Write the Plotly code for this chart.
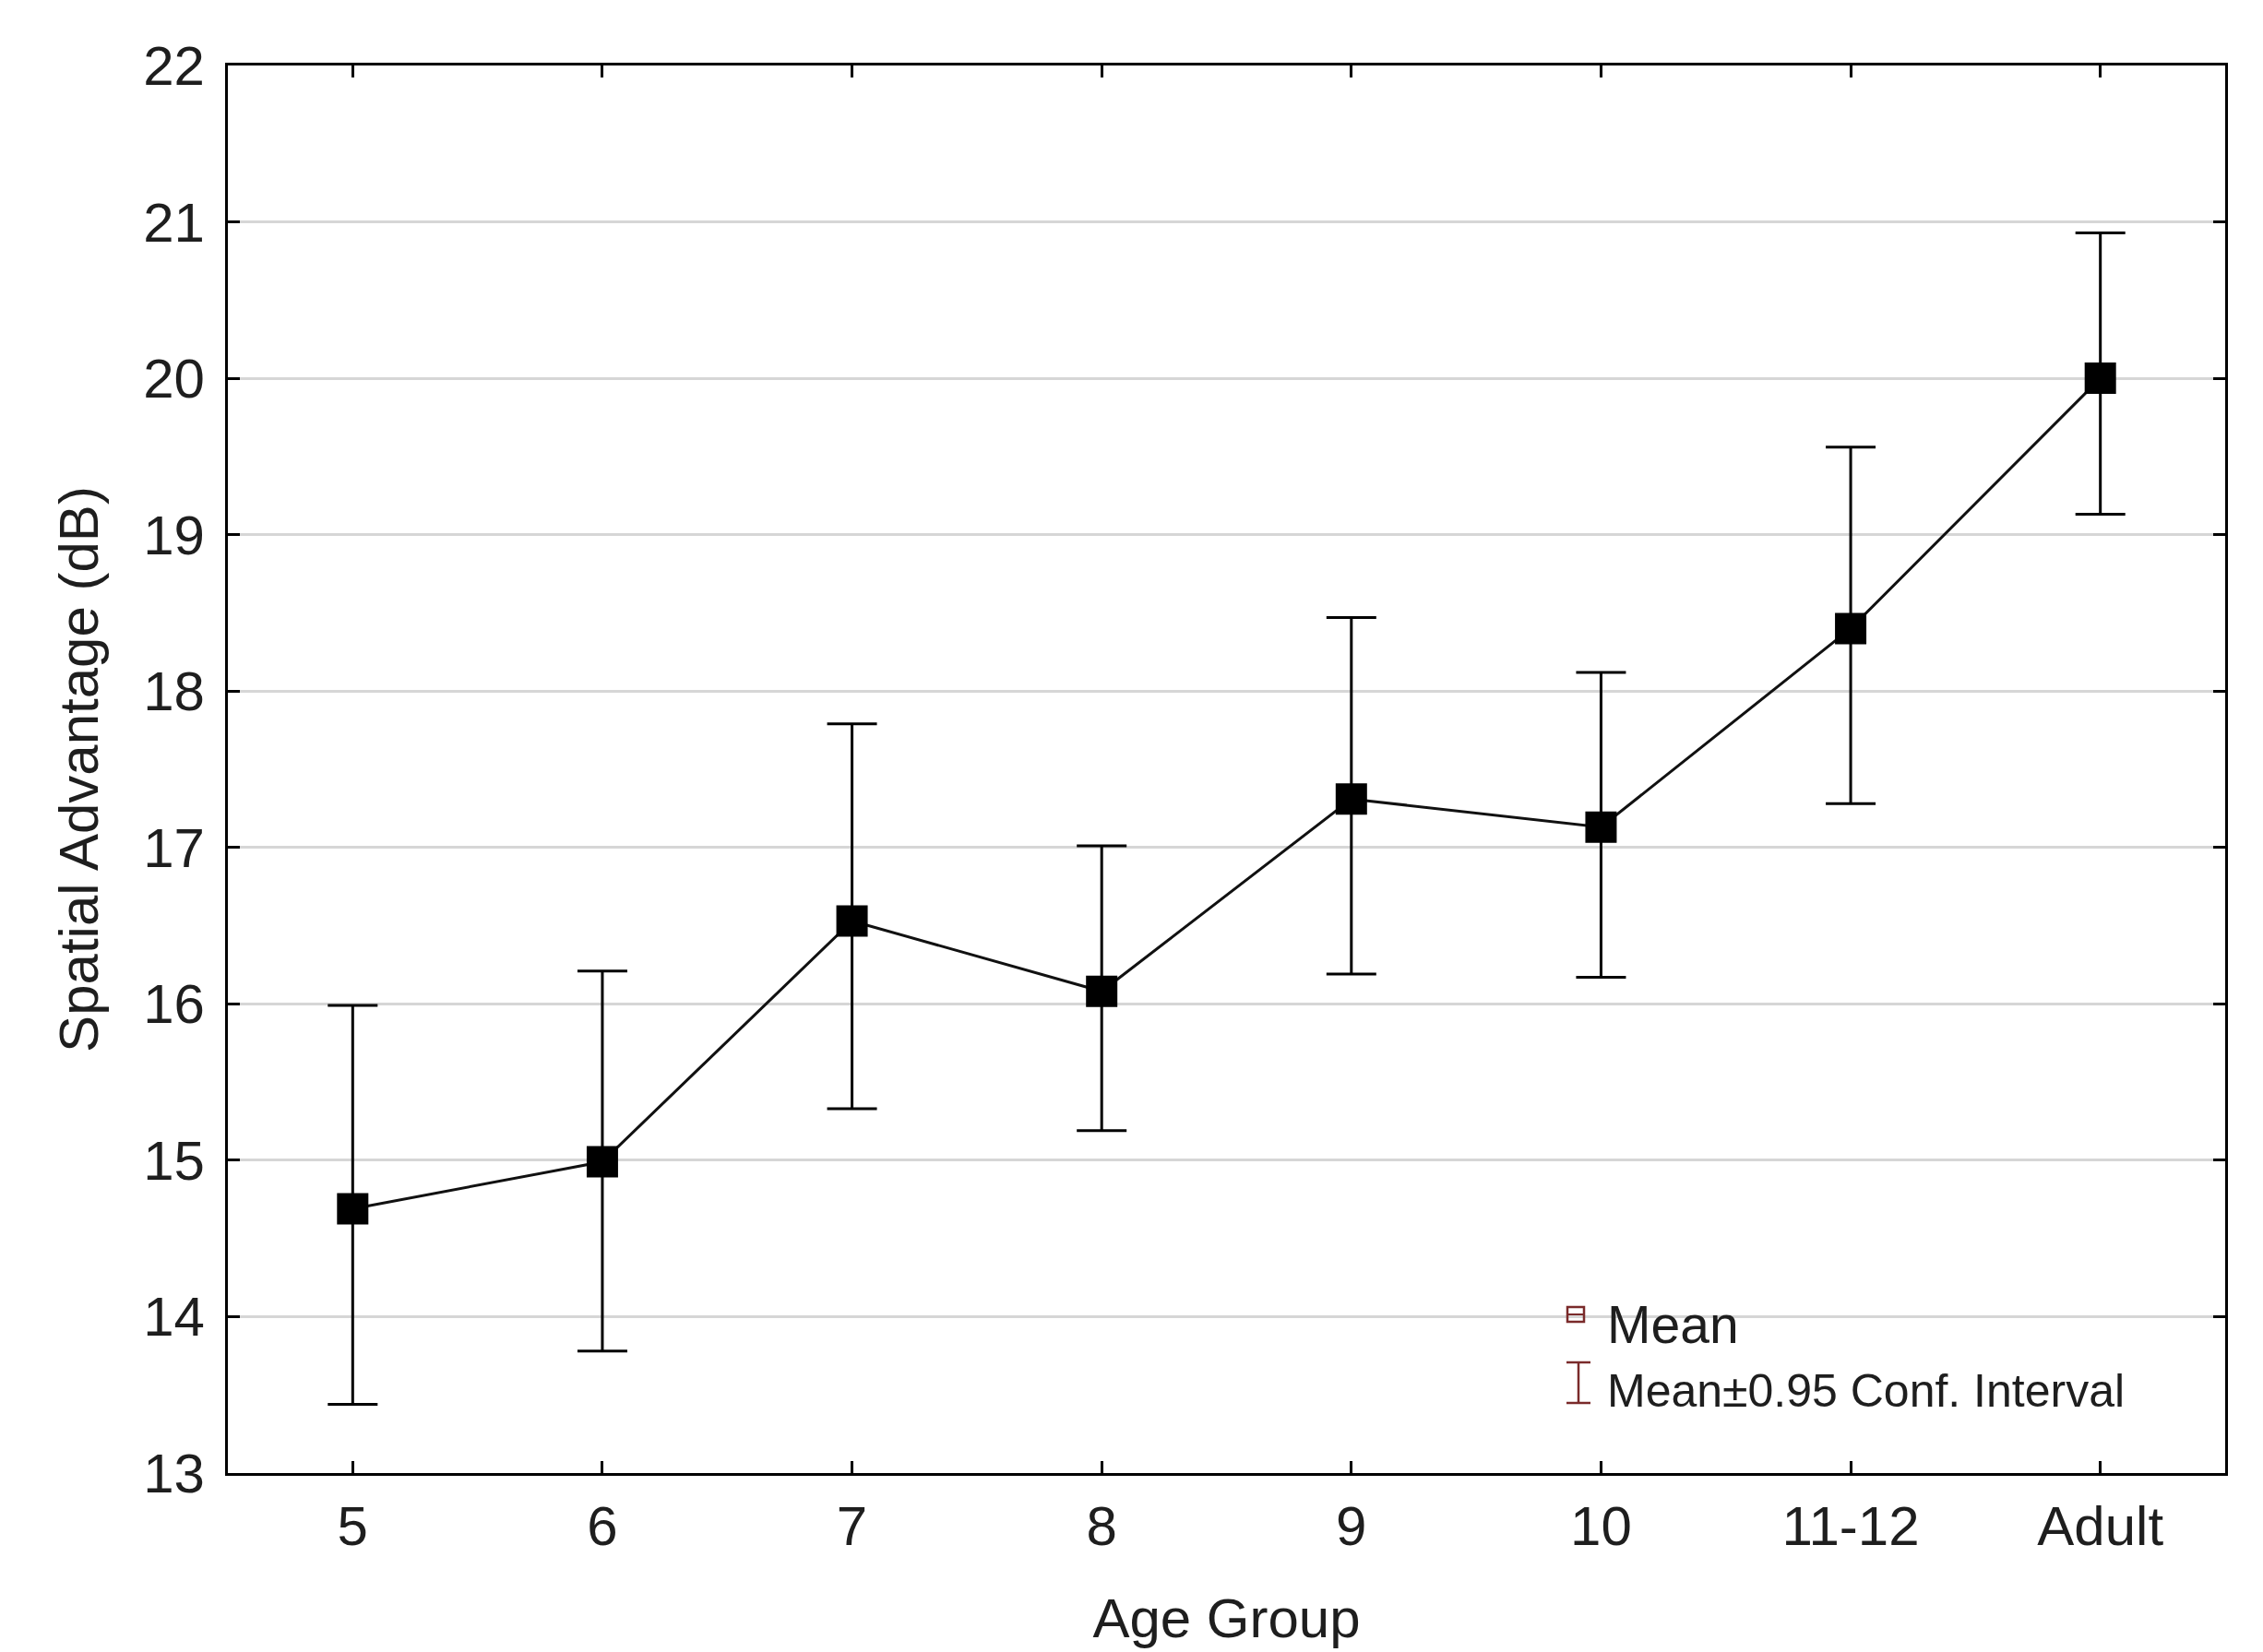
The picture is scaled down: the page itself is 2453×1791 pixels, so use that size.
import plotly.graph_objects as go

# Data
age_groups = ["5", "6", "7", "8", "9", "10", "11-12", "Adult"]
mean_values = [14.69, 14.99, 16.53, 16.08, 17.31, 17.13, 18.40, 20.00]
ci_upper = [15.99, 16.21, 17.79, 17.01, 18.47, 18.12, 19.56, 20.93]
ci_lower = [13.44, 13.78, 15.33, 15.19, 16.19, 16.17, 17.28, 19.13]

y_ticks = [13, 14, 15, 16, 17, 18, 19, 20, 21, 22]

err_plus = [u - m for u, m in zip(ci_upper, mean_values)]
err_minus = [m - l for m, l in zip(mean_values, ci_lower)]

FONT = "Liberation Sans, Arial, sans-serif"
TXT = "#1e1e1e"
LEG = "#7a2a2a"

fig = go.Figure()
fig.add_trace(go.Scatter(
    x=list(range(len(age_groups))),
    y=mean_values,
    mode="lines+markers",
    line=dict(color="#111111", width=3),
    marker=dict(symbol="square", size=34, color="black"),
    error_y=dict(type="data", symmetric=False, array=err_plus, arrayminus=err_minus,
                 color="black", thickness=3, width=27),
    showlegend=False,
))

W, H = 2453, 1791
OFF = 8  # page body margin offset
PL, PR, PT, PB = 247, 2412, 71, 1597  # plot frame in page pixels
L, T = PL - OFF, PT - OFF
R, B = W - (PR - OFF), H - (PB - OFF)
pw, ph = PR - PL, PB - PT


def px(x):
    return (x - PL) / pw


def py(y):
    return (PB - y) / ph


# Legend symbols (paper coordinates)
shapes = [
    dict(type="rect", xref="paper", yref="paper", x0=px(1699), x1=px(1717), y0=py(1433), y1=py(1417),
         line=dict(color=LEG, width=2.5), fillcolor="rgba(0,0,0,0)"),
    dict(type="line", xref="paper", yref="paper", x0=px(1699), x1=px(1717), y0=py(1425), y1=py(1425),
         line=dict(color=LEG, width=2)),
    dict(type="line", xref="paper", yref="paper", x0=px(1711), x1=px(1711), y0=py(1477), y1=py(1521),
         line=dict(color=LEG, width=2.5)),
    dict(type="line", xref="paper", yref="paper", x0=px(1698), x1=px(1724), y0=py(1477), y1=py(1477),
         line=dict(color=LEG, width=2.5)),
    dict(type="line", xref="paper", yref="paper", x0=px(1698), x1=px(1724), y0=py(1521), y1=py(1521),
         line=dict(color=LEG, width=2.5)),
]

annotations = [
    dict(text="Mean", xref="paper", yref="paper", x=px(1740), y=py(1436), xanchor="left", yanchor="middle",
         showarrow=False, font=dict(family=FONT, size=57, color=TXT)),
    dict(text="Mean±0.95 Conf. Interval", xref="paper", yref="paper", x=px(1740), y=py(1508),
         xanchor="left", yanchor="middle", showarrow=False, font=dict(family=FONT, size=50, color=TXT)),
]

fig.update_layout(
    width=W, height=H,
    margin=dict(l=L, r=R, t=T, b=B),
    paper_bgcolor="white", plot_bgcolor="white",
    font=dict(family=FONT, color=TXT),
    shapes=shapes, annotations=annotations,
    xaxis=dict(
        tickmode="array", tickvals=list(range(len(age_groups))), ticktext=age_groups,
        range=[-0.5, len(age_groups) - 0.5],
        ticks="inside", ticklen=13, tickwidth=2.5, tickcolor="black",
        showline=True, linecolor="black", linewidth=3, mirror="ticks",
        showgrid=False, zeroline=False, automargin=False,
        tickfont=dict(family=FONT, size=60, color=TXT),
        ticklabelstandoff=3,
        title=dict(text="Age Group", font=dict(family=FONT, size=60, color=TXT), standoff=46),
    ),
    yaxis=dict(
        tickmode="array", tickvals=y_ticks, ticktext=[str(v) for v in y_ticks],
        range=[13, 22],
        ticks="inside", ticklen=13, tickwidth=2.5, tickcolor="black",
        showline=True, linecolor="black", linewidth=3, mirror="ticks",
        showgrid=True, gridcolor="#d6d6d6", gridwidth=2.5, zeroline=False, automargin=False,
        tickfont=dict(family=FONT, size=60, color=TXT),
        ticklabelstandoff=10,
        title=dict(text="Spatial Advantage (dB)", font=dict(family=FONT, size=60, color=TXT), standoff=30),
    ),
)

fig.write_html("out.html")
